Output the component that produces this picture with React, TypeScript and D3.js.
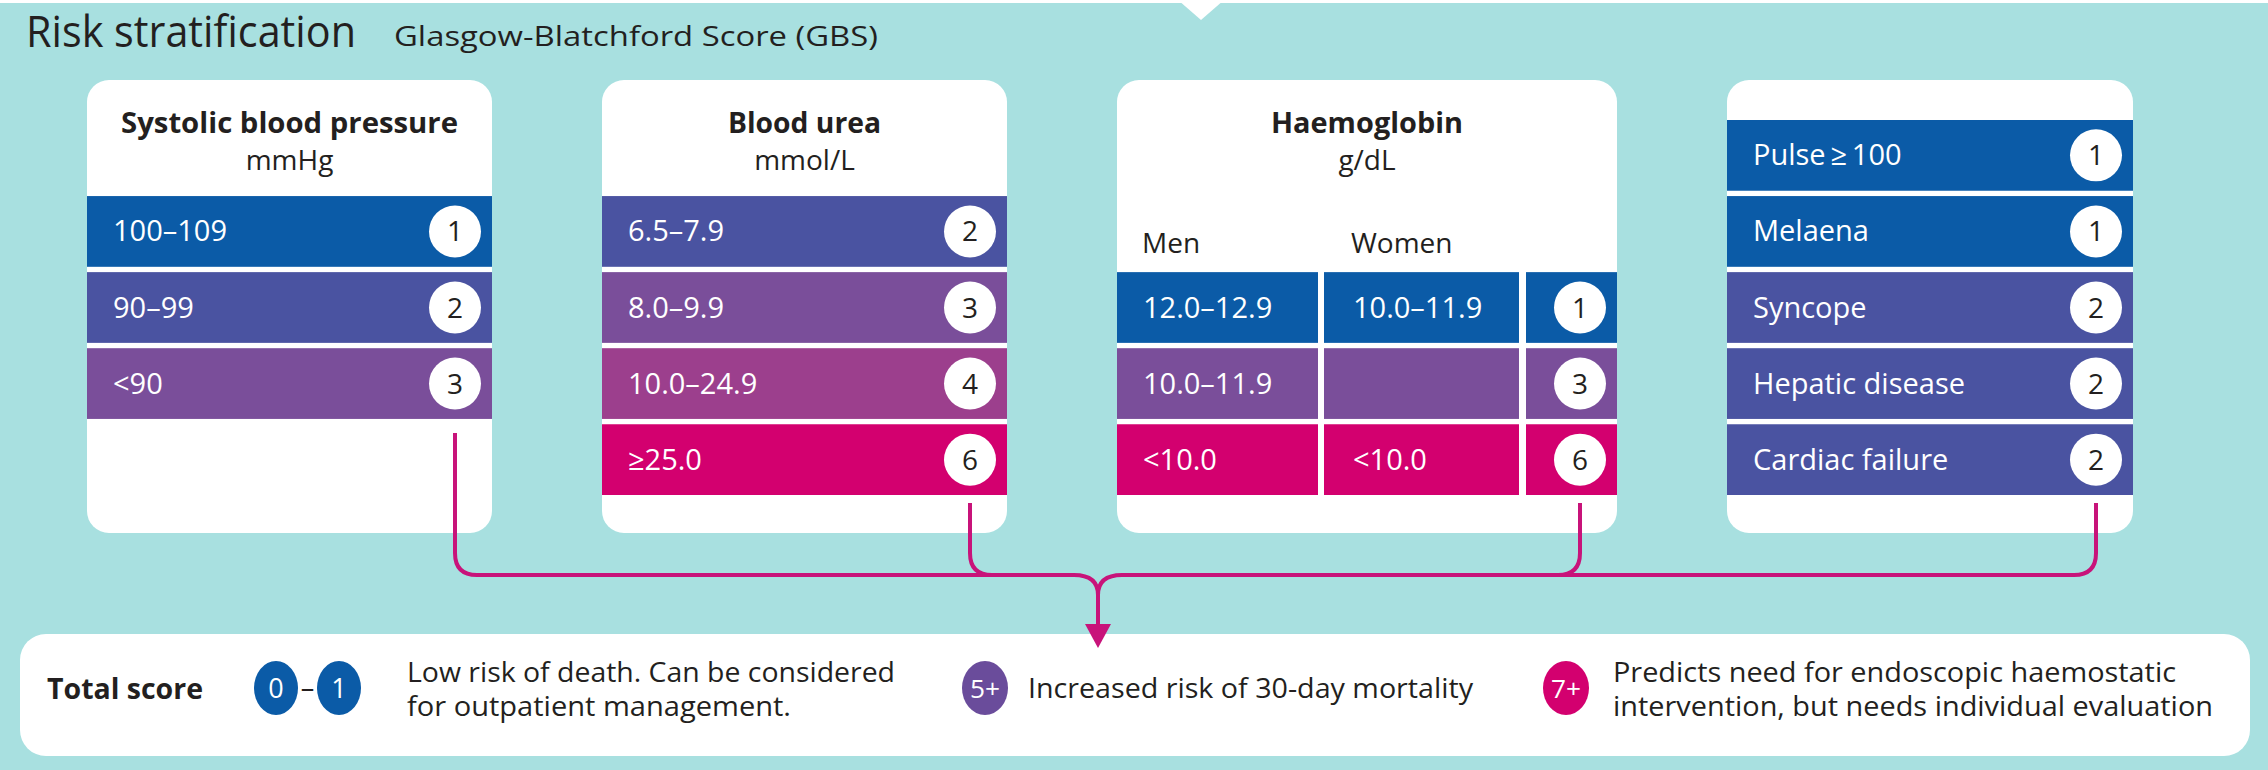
import React from "react";
import * as d3 from "d3";

const W = 2268;
const H = 770;

// ---------- data ----------
const titleText = "Risk stratification";
const subtitleText = "Glasgow-Blatchford Score (GBS)";

const sbpHeader = ["Systolic blood pressure", "mmHg"];
const sbpRanges = ["100–109", "90–99", "<90"];
const sbpScores = [1, 2, 3];

const ureaHeader = ["Blood urea", "mmol/L"];
const ureaRanges = ["6.5–7.9", "8.0–9.9", "10.0–24.9", "≥25.0"];
const ureaScores = [2, 3, 4, 6];

const hbHeader = ["Haemoglobin", "g/dL"];
const hbSexes = ["Men", "Women"];
const hbMen = ["12.0–12.9", "10.0–11.9", "<10.0"];
const hbWomen = ["10.0–11.9", "", "<10.0"];
const hbScores = [1, 3, 6];

const otherMarkers = ["Pulse\u2009≥\u2009100", "Melaena", "Syncope", "Hepatic disease", "Cardiac failure"];
const otherScores = [1, 1, 2, 2, 2];

const legendLabel = "Total score";
const legendBadges = [["0", "1"], ["5+"], ["7+"]];
const legendLines = [
  ["Low risk of death. Can be considered", "for outpatient management."],
  ["Increased risk of 30-day mortality"],
  ["Predicts need for endoscopic haemostatic", "intervention, but needs individual evaluation"],
];

// ---------- styles ----------
const FONT = "'Open Sans', 'Noto Sans', Lato, sans-serif";
const TEAL = "#A8E0E0";
const INK = "#231F20";
const LINE = "#C8137A";
const scoreColor = d3
  .scaleOrdinal<number, string>()
  .domain([1, 2, 3, 4, 6])
  .range(["#0B5BA7", "#4A53A1", "#7A4E9A", "#9C3F8D", "#D3006F"]);
const legendColors = ["#0B5BA7", "#6A4C9B", "#D3006F"];

// layout
const cardTop = 80;
const cardBottom = 533;
const cardX = [87, 602, 1117, 1727];
const cardW = [405, 405, 500, 406];
const rowY = d3.scaleBand<number>().domain(d3.range(5)).range([120, 495]).paddingInner(0.07);
const hLineY = 575;
const arrowX = 1098;
const cr = 22; // corner radius of connectors

function ScoreCircle({ cx, cy, v }: { cx: number; cy: number; v: number }) {
  return (
    <g>
      <circle cx={cx} cy={cy} r={26} fill="#fff" />
      <text x={cx} y={cy + 10} textAnchor="middle" fontSize={28} fontWeight={500} fill={INK} fontFamily={FONT}>
        {v}
      </text>
    </g>
  );
}

function Header({ x, w, lines, widths }: { x: number; w: number; lines: string[]; widths: number[] }) {
  const cx = x + w / 2;
  return (
    <g fontFamily={FONT} fill={INK} textAnchor="middle">
      <text x={cx} y={133} fontSize={29} fontWeight={700} textLength={widths[0]} lengthAdjust="spacingAndGlyphs">
        {lines[0]}
      </text>
      <text x={cx} y={170} fontSize={28}>
        {lines[1]}
      </text>
    </g>
  );
}

function SimpleCard({
  idx,
  startRow,
  labels,
  scores,
}: {
  idx: number;
  startRow: number;
  labels: string[];
  scores: number[];
}) {
  const x = cardX[idx];
  const w = cardW[idx];
  const bw = rowY.bandwidth();
  return (
    <g>
      {labels.map((lab, i) => {
        const y = rowY(startRow + i)!;
        return (
          <g key={i}>
            <rect x={x} y={y} width={w} height={bw} fill={scoreColor(scores[i])} />
            <text x={x + 26} y={y + bw / 2 + 10} fontSize={29} fontWeight={500} fill="#fff" fontFamily={FONT}>
              {lab}
            </text>
            <ScoreCircle cx={x + w - 37} cy={y + bw / 2} v={scores[i]} />
          </g>
        );
      })}
    </g>
  );
}

export default function App() {
  const bw = rowY.bandwidth();
  const hx = cardX[2];
  const hw = cardW[2];
  const col1 = [hx, hx + 201];
  const col2 = [hx + 207, hx + 402];
  const col3 = [hx + 409, hx + hw];

  // connector sources
  const lineXs = cardX.map((x, i) => x + cardW[i] - 37);
  const lastRowBottom = [rowY(3)! + bw, rowY(4)! + bw, rowY(4)! + bw, rowY(4)! + bw];
  const startYs = lastRowBottom.map((b, i) => b + (i === 0 ? 14 : 8));

  const connectorPaths = lineXs.map((lx, i) => {
    const dir = lx < arrowX ? 1 : -1;
    const p = d3.path();
    p.moveTo(lx, startYs[i]);
    p.lineTo(lx, hLineY - cr);
    p.quadraticCurveTo(lx, hLineY, lx + dir * cr, hLineY);
    return p.toString();
  });

  const leftMain = d3.path();
  leftMain.moveTo(lineXs[0] + cr, hLineY);
  leftMain.lineTo(arrowX - 24, hLineY);
  leftMain.quadraticCurveTo(arrowX, hLineY, arrowX, hLineY + 20);
  const rightMain = d3.path();
  rightMain.moveTo(lineXs[3] - cr, hLineY);
  rightMain.lineTo(arrowX + 24, hLineY);
  rightMain.quadraticCurveTo(arrowX, hLineY, arrowX, hLineY + 20);
  const stem = d3.path();
  stem.moveTo(arrowX, hLineY + 18);
  stem.lineTo(arrowX, 628);

  // legend
  const legY = 688;
  const lgBoxY = 634;
  const b0 = 276;
  const b1 = 339;

  return (
    <svg
      width={W}
      height={H}
      viewBox={`0 0 ${W} ${H}`}
      style={{ position: "absolute", left: 0, top: 0, display: "block", background: "#fff" }}
    >
      <rect x={0} y={3} width={W} height={H - 3} fill={TEAL} />
      <polygon points="1178,0 1224,0 1201,20" fill="#fff" />

      <text x={26} y={47} fontSize={43} fill={INK} fontFamily={FONT} textLength={330} lengthAdjust="spacingAndGlyphs">
        {titleText}
      </text>
      <text x={394} y={46} fontSize={28} fill={INK} fontFamily={FONT} textLength={484} lengthAdjust="spacingAndGlyphs">
        {subtitleText}
      </text>

      {/* cards */}
      {cardX.map((x, i) => (
        <rect key={i} x={x} y={cardTop} width={cardW[i]} height={cardBottom - cardTop} rx={22} fill="#fff" />
      ))}

      <Header x={cardX[0]} w={cardW[0]} lines={sbpHeader} widths={[337]} />
      <Header x={cardX[1]} w={cardW[1]} lines={ureaHeader} widths={[153]} />
      <Header x={cardX[2]} w={cardW[2]} lines={hbHeader} widths={[192]} />

      <SimpleCard idx={0} startRow={1} labels={sbpRanges} scores={sbpScores} />
      <SimpleCard idx={1} startRow={1} labels={ureaRanges} scores={ureaScores} />
      <SimpleCard idx={3} startRow={0} labels={otherMarkers} scores={otherScores} />

      {/* haemoglobin card */}
      <g fontFamily={FONT}>
        <text x={col1[0] + 25} y={253} fontSize={28} fill={INK}>
          {hbSexes[0]}
        </text>
        <text x={col2[0] + 27} y={253} fontSize={28} fill={INK}>
          {hbSexes[1]}
        </text>
        {hbScores.map((s, i) => {
          const y = rowY(2 + i)!;
          const c = scoreColor(s);
          return (
            <g key={i}>
              <rect x={col1[0]} y={y} width={col1[1] - col1[0]} height={bw} fill={c} />
              <rect x={col2[0]} y={y} width={col2[1] - col2[0]} height={bw} fill={c} />
              <rect x={col3[0]} y={y} width={col3[1] - col3[0]} height={bw} fill={c} />
              <text x={col1[0] + 26} y={y + bw / 2 + 10} fontSize={29} fontWeight={500} fill="#fff">
                {hbMen[i]}
              </text>
              <text x={col2[0] + 29} y={y + bw / 2 + 10} fontSize={29} fontWeight={500} fill="#fff">
                {hbWomen[i]}
              </text>
              <ScoreCircle cx={hx + hw - 37} cy={y + bw / 2} v={s} />
            </g>
          );
        })}
      </g>

      {/* connectors */}
      <g fill="none" stroke={LINE} strokeWidth={4} strokeLinecap="butt">
        {connectorPaths.map((d, i) => (
          <path key={i} d={d} />
        ))}
        <path d={leftMain.toString()} />
        <path d={rightMain.toString()} />
        <path d={stem.toString()} />
      </g>

      {/* legend box */}
      <rect x={20} y={lgBoxY} width={2230} height={122} rx={26} fill="#fff" />
      <polygon points={`${arrowX - 13},624 ${arrowX + 13},624 ${arrowX},648`} fill={LINE} />

      <g fontFamily={FONT}>
        <text x={47} y={legY + 11} fontSize={28} fontWeight={700} fill={INK} textLength={156} lengthAdjust="spacingAndGlyphs">
          {legendLabel}
        </text>

        {/* 0 – 1 */}
        <ellipse cx={b0} cy={legY} rx={22} ry={27} fill={legendColors[0]} />
        <text x={b0} y={legY + 10} textAnchor="middle" fontSize={27} fill="#fff">
          {legendBadges[0][0]}
        </text>
        <text x={(b0 + b1) / 2} y={legY + 9} textAnchor="middle" fontSize={27} fill={INK}>
          –
        </text>
        <ellipse cx={b1} cy={legY} rx={22} ry={27} fill={legendColors[0]} />
        <text x={b1} y={legY + 10} textAnchor="middle" fontSize={27} fill="#fff">
          {legendBadges[0][1]}
        </text>
        <text x={407} y={legY - 6} fontSize={27} fill={INK} textLength={488} lengthAdjust="spacingAndGlyphs">
          {legendLines[0][0]}
        </text>
        <text x={407} y={legY + 28} fontSize={27} fill={INK} textLength={384} lengthAdjust="spacingAndGlyphs">
          {legendLines[0][1]}
        </text>

        {/* 5+ */}
        <ellipse cx={985} cy={legY} rx={23} ry={27} fill={legendColors[1]} />
        <text x={985} y={legY + 10} textAnchor="middle" fontSize={26} fill="#fff" textLength={30} lengthAdjust="spacingAndGlyphs">
          {legendBadges[1][0]}
        </text>
        <text x={1028} y={legY + 10} fontSize={27} fill={INK} textLength={445} lengthAdjust="spacingAndGlyphs">
          {legendLines[1][0]}
        </text>

        {/* 7+ */}
        <ellipse cx={1566} cy={legY} rx={23} ry={27} fill={legendColors[2]} />
        <text x={1566} y={legY + 10} textAnchor="middle" fontSize={26} fill="#fff" textLength={30} lengthAdjust="spacingAndGlyphs">
          {legendBadges[2][0]}
        </text>
        <text x={1613} y={legY - 6} fontSize={27} fill={INK} textLength={563} lengthAdjust="spacingAndGlyphs">
          {legendLines[2][0]}
        </text>
        <text x={1613} y={legY + 28} fontSize={27} fill={INK} textLength={600} lengthAdjust="spacingAndGlyphs">
          {legendLines[2][1]}
        </text>
      </g>
    </svg>
  );
}
